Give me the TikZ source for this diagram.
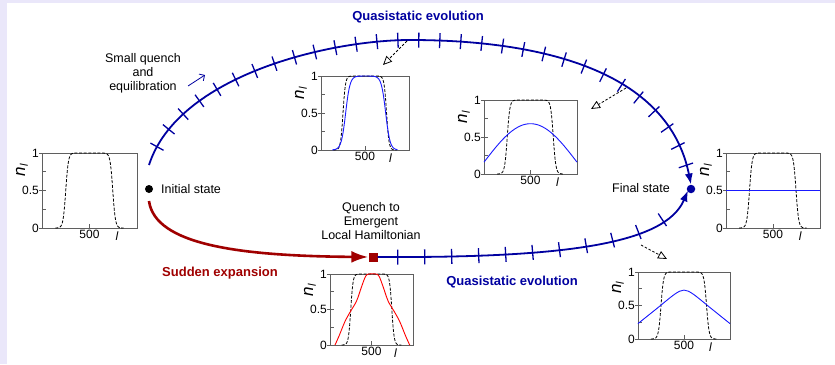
\documentclass[tikz,border=0pt]{standalone}
\usepackage{fontspec}
\setmainfont{Liberation Sans}
\usepackage{tikz}
\usetikzlibrary{arrows.meta,decorations.markings}
\definecolor{QsBlue}{RGB}{0,0,160}
\definecolor{CurveBlue}{RGB}{25,25,255}
\definecolor{QuenchRed}{RGB}{160,0,0}
\definecolor{EdgeLilac}{RGB}{234,231,250}
\definecolor{FrameGray}{RGB}{95,95,95}
\tikzset{
    plotframe/.style={draw=FrameGray, line width=1pt, inner sep=0pt, outer sep=0pt},
    axtick/.style={draw=FrameGray, line width=0.8pt},
    ticklab/.style={font=\fontsize{12}{12}\selectfont, inner sep=1pt},
    nlab/.style={font=\fontsize{17}{17}\selectfont, inner sep=0pt, rotate=90},
    profile/.style={black, line width=0.8pt, dash pattern=on 3pt off 1.6pt},
    bluecurve/.style={CurveBlue, line width=0.9pt},
    redcurve/.style={red, line width=0.9pt},
    txt/.style={font=\fontsize{12.5}{14}\selectfont, align=center, inner sep=1pt},
    bigtxt/.style={font=\fontsize{13}{14}\selectfont\bfseries, inner sep=1pt},
    qsarc/.style={draw=QsBlue, line width=1.8pt, -{Latex[length=11pt, width=8pt]},
        postaction={decorate},
        decoration={markings, mark=between positions #1 with {\draw[QsBlue, line width=1.3pt, arrows=-] (0,-7.5pt) -- (0,7.5pt);}}},
    quencharr/.style={draw=QuenchRed, line width=2.6pt, -{Latex[length=17pt, width=12pt]}},
    snaparr/.style={black, line width=0.8pt, dash pattern=on 2.5pt off 1.8pt, -{Triangle[open, length=9pt, width=8pt]}},
    statedot/.style={circle, inner sep=0pt, minimum size=8pt},
}
% one density panel: name, left, top, width, height, extra curves
\newcommand{\densplot}[6]{%
  \node[plotframe, minimum width=#4pt, minimum height=#5pt, anchor=north west] (#1) at (#2,#3) {};
  \begin{scope}[shift={(#1.south west)}, x=#4pt, y=#5pt]
    \foreach \yy in {0.25,0.5,0.75} \draw[axtick] (0,\yy) -- ++(4pt,0);
    \foreach \yy in {0,0.5,1} \draw[axtick] (0,\yy) -- ++(-3pt,0);
    \draw[axtick] (0.5,0) -- ++(0,4pt);
    \node[ticklab, anchor=east] (#1-one) at ([xshift=-2pt]0,1) {1};
    \node[ticklab, anchor=east] (#1-half) at ([xshift=-2pt]0,0.5) {0.5};
    \node[ticklab, anchor=east] (#1-zero) at ([xshift=-2pt]0,0) {0};
    \node[ticklab, anchor=north] (#1-mid) at ([yshift=-1pt]0.5,0) {500};
    \node[ticklab, anchor=north] (#1-l) at ([yshift=-3pt]0.79,0) {\textit{l}};
    \node[nlab] (#1-n) at ([xshift=-20pt]0,0.77) {\textit{n}\raisebox{-0.3ex}{\fontsize{11}{11}\selectfont\textit{l}}};
    \draw[profile] plot[domain=0.14:0.86, samples=110, smooth] (\x, {1/((1+exp((0.25-\x)/0.014))*(1+exp((\x-0.745)/0.014)))});
    #6
  \end{scope}}

\begin{document}
\begin{tikzpicture}[x=1pt, y=-1pt]
\useasboundingbox (0,0) rectangle (835,364);
\fill[EdgeLilac] (0,0) rectangle (835,364);
\fill[white] (7,3) rectangle (835,364);

% density panels
\densplot{pinit}{42}{153}{95}{75}{}
\densplot{pqs}{321}{76}{88}{74}{%
  \draw[bluecurve] plot[domain=0.13:0.87, samples=90, smooth] (\x, {1/((1+exp((0.28-\x)/0.025))*(1+exp((\x-0.735)/0.025)))});}
\densplot{plate}{484}{100}{93}{74}{%
  \draw[bluecurve] plot[domain=0:1, samples=50, smooth] (\x, {0.16+0.52*sin(180*\x)});}
\densplot{pfinal}{726}{153}{94}{75}{%
  \draw[bluecurve] (0,0.5) -- (1,0.5);}
\densplot{psudden}{330}{274}{83}{71}{%
  \draw[redcurve] plot[smooth, tension=0.6] coordinates {(0.06,0) (0.11,0.13) (0.18,0.33) (0.25,0.48) (0.32,0.62) (0.38,0.82) (0.43,0.97) (0.47,1) (0.55,1) (0.59,0.97) (0.64,0.82) (0.7,0.62) (0.77,0.48) (0.84,0.33) (0.91,0.13) (0.96,0)};}
\densplot{pemerg}{638}{272}{92}{67}{%
  \draw[bluecurve] plot[smooth, tension=0.5] coordinates {(0,0.23) (0.2,0.45) (0.4,0.67) (0.5,0.73) (0.6,0.67) (0.8,0.45) (1,0.23)};}

% states
\node[statedot, fill=black] (init) at (149,189) {};
\node[statedot, fill=QsBlue, minimum size=8.5pt] (final) at (691,189) {};
\node[fill=QuenchRed, inner sep=0pt, minimum size=9pt] (emerg) at (373,257) {};

\node[txt, anchor=west] (initlab) at (160,189) {Initial state};
\node[txt, anchor=east] (finallab) at (671,188) {Final state};
\node[txt] (smalllab) at (143,73) {Small quench\\and\\equilibration};
\node[txt] (emerglab) at (371,221) {Quench to\\Emergent\\Local Hamiltonian};
\node[bigtxt, QsBlue] (qstop) at (418,17) {Quasistatic evolution};
\node[bigtxt, QsBlue] (qsbot) at (512,282) {Quasistatic evolution};
\node[bigtxt, QuenchRed] (suddenlab) at (220,273) {Sudden expansion};

% evolution paths
\draw[qsarc={20pt and -14pt step 21pt}] ([yshift=24pt]init.center) .. controls (178,75) and (330,40) .. (410,40)
    .. controls (540,40) and (668,70) .. (final.north);
\draw[qsarc={20pt and -14pt step 27pt}] (emerg.east) .. controls (560,258) and (665,245) .. ([xshift=-3pt,yshift=3pt]final.south);
\draw[quencharr] ([yshift=-12pt]init.center) .. controls (155,245) and (240,256) .. (emerg.west);
\draw[QsBlue, line width=0.8pt, -{Straight Barb[length=4pt]}] (188,86) -- (205,75);

% snapshots along the way
\coordinate (snap1) at (407,41);
\coordinate (snap2) at (626,88);
\coordinate (snap3) at (641,245);
\draw[snaparr] (snap1) -- (383,65);
\draw[snaparr] (snap2) -- (591,109);
\draw[snaparr] (snap3) -- (667,259);
\end{tikzpicture}
\end{document}
